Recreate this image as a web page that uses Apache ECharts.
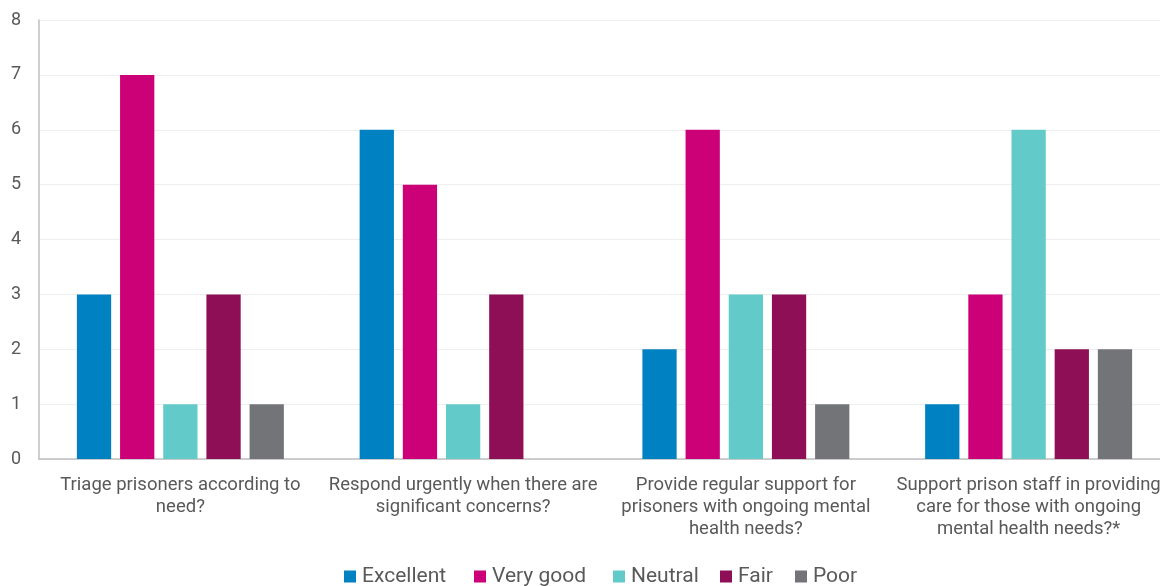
<!DOCTYPE html>
<html>
<head>
<meta charset="utf-8">
<script src="https://cdn.jsdelivr.net/npm/echarts@6/dist/echarts.min.js"></script>
<style>
  html, body { margin: 0; padding: 0; background: #fff; overflow: hidden; }
  #chart { width: 1170px; height: 586px; }
</style>
</head>
<body>
<div id="chart"></div>
<script>
// Survey questions (x-axis categories)
const categories = [
  'Triage prisoners according to\nneed?',
  'Respond urgently when there are\nsignificant concerns?',
  'Provide regular support for\nprisoners with ongoing mental\nhealth needs?',
  'Support prison staff in providing\ncare for those with ongoing\nmental health needs?*'
];

// Response counts per rating
const excellent = [3, 6, 2, 1];
const veryGood  = [7, 5, 6, 3];
const neutral   = [1, 1, 3, 6];
const fair      = [3, 3, 3, 2];
const poor      = [1, 0, 1, 2];

const seriesNames  = ['Excellent', 'Very good', 'Neutral', 'Fair', 'Poor'];
const seriesData   = [excellent, veryGood, neutral, fair, poor];
const seriesColors = ['#0081C1', '#CC0077', '#62CAC8', '#8E0F55', '#737478'];

const yTicks = { min: 0, max: 8, interval: 1 };

// horizontal start of each legend entry
const legendLefts = [344, 474, 613, 720, 795];

const chart = echarts.init(document.getElementById('chart'), null, { renderer: 'canvas' });

chart.setOption({
  animation: false,
  textStyle: { fontFamily: 'Roboto, sans-serif' },
  grid: { left: 39, top: 20, width: 1131, height: 439, containLabel: false },
  legend: seriesNames.map((name, i) => ({
    top: 566,
    left: legendLefts[i],
    padding: 0,
    icon: 'rect',
    itemWidth: 12,
    itemHeight: 12,
    textStyle: { color: '#595959', fontSize: 21, fontFamily: 'Roboto, sans-serif', padding: [0, 0, 0, 1] },
    data: [name]
  })),
  xAxis: {
    type: 'category',
    data: categories,
    axisTick: { show: false },
    axisLine: { lineStyle: { color: '#bfbfbf', width: 1.5 } },
    axisLabel: {
      color: '#595959',
      fontSize: 18.5,
      lineHeight: 22,
      margin: 15,
      interval: 0,
      align: 'center'
    }
  },
  yAxis: {
    type: 'value',
    min: yTicks.min,
    max: yTicks.max,
    interval: yTicks.interval,
    axisLine: { show: true, lineStyle: { color: '#bfbfbf', width: 1.5 } },
    axisTick: { show: false },
    splitLine: { lineStyle: { color: '#eeeeee', width: 1 } },
    axisLabel: { color: '#595959', fontSize: 18, margin: 18 }
  },
  series: seriesNames.map((name, i) => ({
    name: name,
    type: 'bar',
    data: seriesData[i],
    barGap: '26%',
    barCategoryGap: '26.8%',
    itemStyle: { color: seriesColors[i] }
  }))
});
</script>
</body>
</html>
